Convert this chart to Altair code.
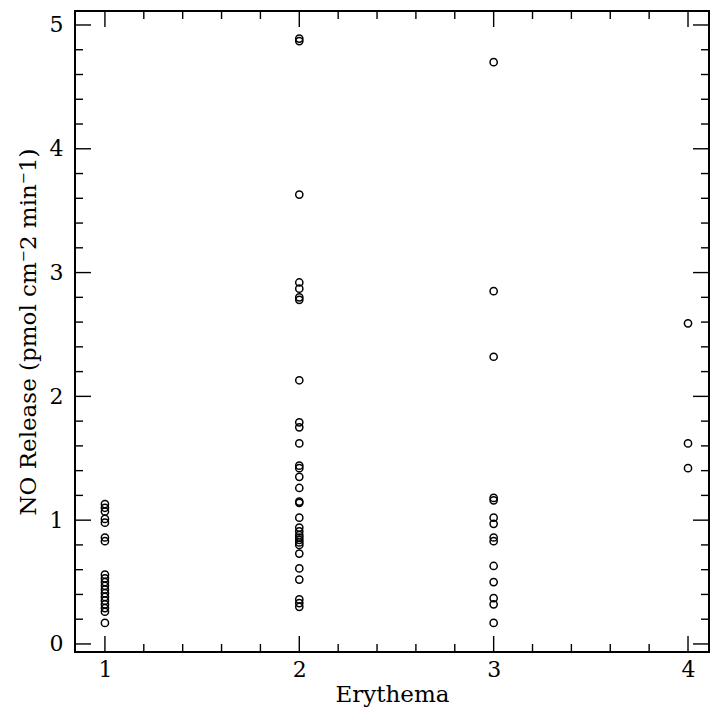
import altair as alt
import pandas as pd

# ---- data ----
erythema_levels = [1, 2, 3, 4]
no_release_e1 = [1.13, 1.10, 1.07, 1.01, 0.98, 0.86, 0.83, 0.56, 0.53, 0.50, 0.47,
                 0.44, 0.41, 0.38, 0.35, 0.32, 0.29, 0.26, 0.17]
no_release_e2 = [4.89, 4.87, 3.63, 2.92, 2.87, 2.80, 2.78, 2.13, 1.79, 1.75, 1.62,
                 1.44, 1.42, 1.35, 1.26, 1.15, 1.14, 1.02, 0.94, 0.91, 0.88, 0.86,
                 0.84, 0.82, 0.80, 0.73, 0.61, 0.52, 0.36, 0.33, 0.30]
no_release_e3 = [4.70, 2.85, 2.32, 1.18, 1.16, 1.02, 0.97, 0.86, 0.83, 0.63, 0.50,
                 0.37, 0.32, 0.17]
no_release_e4 = [2.59, 1.62, 1.42]

x_major = [1, 2, 3, 4]
x_minor = [1.2, 1.4, 1.6, 1.8, 2.2, 2.4, 2.6, 2.8, 3.2, 3.4, 3.6, 3.8]
y_major = [0, 1, 2, 3, 4, 5]
y_minor = [0.2, 0.4, 0.6, 0.8, 1.2, 1.4, 1.6, 1.8, 2.2, 2.4, 2.6, 2.8,
           3.2, 3.4, 3.6, 3.8, 4.2, 4.4, 4.6, 4.8]

x_title = "Erythema"
y_title = "NO Release (pmol cm\u207b2 min\u207b1)"

# ---- build tables ----
groups = [no_release_e1, no_release_e2, no_release_e3, no_release_e4]
rows = []
for lvl, vals in zip(erythema_levels, groups):
    for v in vals:
        rows.append({"erythema": lvl, "no": v})
df = pd.DataFrame(rows)

W, H = 634, 641
X_DOMAIN = [0.846, 4.108]
Y_DOMAIN = [-0.065, 5.113]
FONT = "DejaVu Serif"
MAJ, MIN = 16, 8

xs = alt.Scale(domain=X_DOMAIN, nice=False, zero=False)
ys = alt.Scale(domain=Y_DOMAIN, nice=False, zero=False)
x_axis = alt.Axis(values=x_major, ticks=False, domain=False, grid=False,
                  labelPadding=7, format="d", titlePadding=3)
y_axis = alt.Axis(values=y_major, ticks=False, domain=False, grid=False,
                  labelPadding=12, format="d", titlePadding=9)


def X(field):
    return alt.X(field, type="quantitative", scale=xs, title=x_title, axis=x_axis)


def Y(field):
    return alt.Y(field, type="quantitative", scale=ys, title=y_title, axis=y_axis)


points = alt.Chart(df).mark_point(
    shape="circle", filled=False, color="black", size=52, strokeWidth=1.5, opacity=1
).encode(x=X("erythema"), y=Y("no"))


def xticks(vals, length):
    d = pd.DataFrame({"erythema": vals})
    base = alt.Chart(d).mark_rule(color="black", strokeWidth=1.4)
    bottom = base.encode(x=X("erythema"), y=alt.value(H), y2=alt.value(H - length))
    top = base.encode(x=X("erythema"), y=alt.value(0), y2=alt.value(length))
    return [bottom, top]


def yticks(vals, length):
    d = pd.DataFrame({"no": vals})
    base = alt.Chart(d).mark_rule(color="black", strokeWidth=1.4)
    left = base.encode(y=Y("no"), x=alt.value(0), x2=alt.value(length))
    right = base.encode(y=Y("no"), x=alt.value(W), x2=alt.value(W - length))
    return [left, right]


layers = ([points] + xticks(x_major, MAJ) + xticks(x_minor, MIN)
          + yticks(y_major, MAJ) + yticks(y_minor, MIN))

chart = alt.layer(*layers).properties(
    width=W, height=H,
    autosize=alt.AutoSizeParams(type="none"),
    padding={"left": 75, "top": 11, "right": 1, "bottom": 61},
    background="white",
).configure_view(
    stroke="black", strokeWidth=2
).configure_axis(
    labelFont=FONT, titleFont=FONT, labelFontSize=22, titleFontSize=23,
    labelColor="black", titleColor="black", titleFontWeight="normal",
)

chart.save("out.html", embed_options={"renderer": "svg", "actions": False})
